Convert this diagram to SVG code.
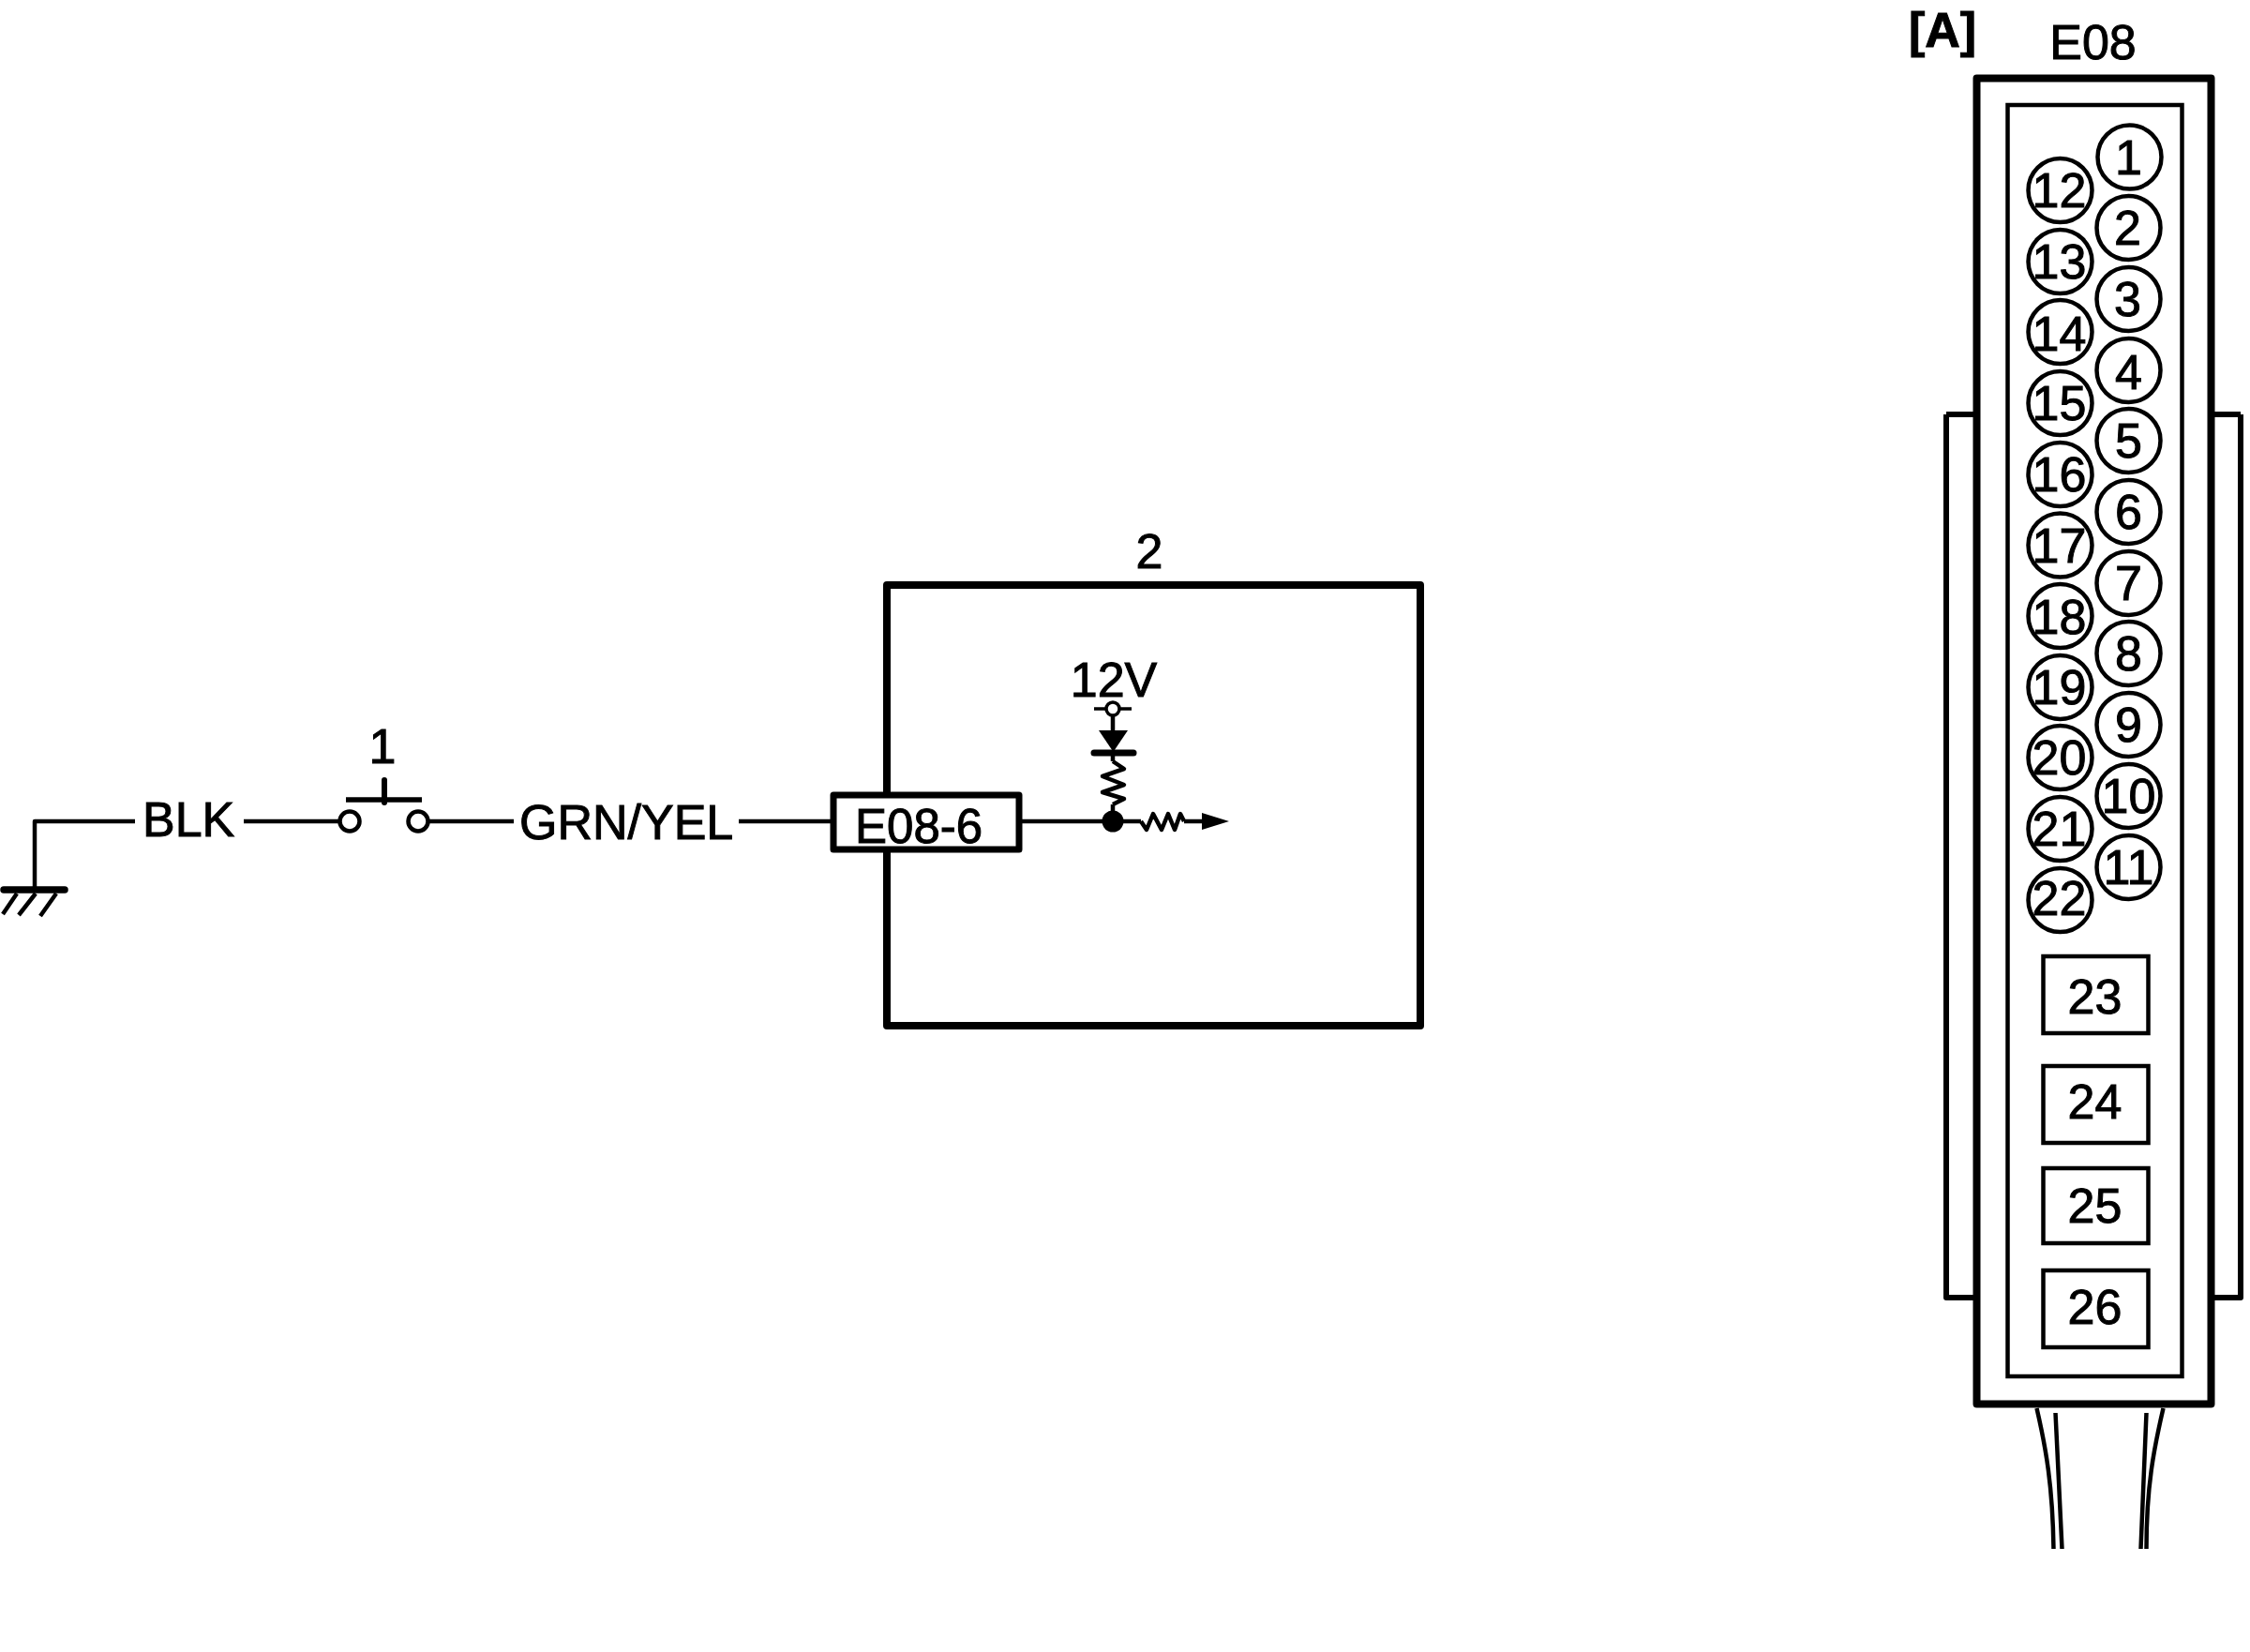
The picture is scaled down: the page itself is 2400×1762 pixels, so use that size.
<svg xmlns="http://www.w3.org/2000/svg" width="2400" height="1762" viewBox="0 0 2400 1762">
<style>
text{font-family:"Liberation Sans",Arial,sans-serif;font-size:52px;fill:#000;stroke:#000;stroke-width:1px}
.m{text-anchor:middle}
.b{font-weight:bold;font-size:52px}
.s{font-size:51px}
.w{fill:none;stroke:#000;stroke-width:4.500;stroke-linejoin:round}
.o{fill:#fff;stroke:#000;stroke-width:8;stroke-linejoin:round}
.t{fill:#fff;stroke:#000;stroke-width:4.500}
.f{fill:#000;stroke:none}
.pin circle{fill:#fff;stroke:#000;stroke-width:4.500}
.pin rect{fill:#fff;stroke:#000;stroke-width:4.500}
</style>
<rect width="2400" height="1762" fill="#fff"/>
<g id="ground">
<path fill="none" stroke="#000" stroke-width="7.500" stroke-linecap="round" d="M4 949H69"/>
<path class="w" d="M18 953L3 975M38 953L20 976M60 953L43 977"/>
</g>
<g id="label-blk"><text x="152" y="892">BLK</text></g>
<g id="switch">
<text class="m" x="408" y="814">1</text>
<path fill="none" stroke="#000" stroke-width="5.500" d="M369 853H450"/>
<path fill="none" stroke="#000" stroke-width="6" stroke-linecap="round" d="M410 832V856"/>
<circle class="w" cx="373" cy="876" r="10.500"/>
<circle class="w" cx="446" cy="876" r="10.500"/>
</g>
<g id="label-grn-yel"><text x="554" y="895">GRN/YEL</text></g>
<g id="unit-2">
<text class="m" x="1226" y="606">2</text>
<rect class="o" x="946" y="624" width="569" height="470"/>
<text class="m" x="1188" y="743">12V</text>
<path class="w" style="stroke-width:3.500" d="M1167 756H1207"/>
<circle cx="1187" cy="756" r="7" fill="#fff" stroke="#000" stroke-width="3.500"/>
<path class="f" d="M1172 779H1203L1187.500 802Z"/>
<path fill="none" stroke="#000" stroke-width="7" stroke-linecap="round" d="M1167 803H1209"/>
<path class="w" d="M1187 812L1199 820L1176 828L1199 837L1176 845L1199 852L1187 858"/>
<circle class="f" cx="1187" cy="876" r="11.500"/>
<path class="w" d="M1217 876L1223 885L1230 868L1239 885L1246 868L1253 885L1259 868L1263 876"/>
<path class="f" d="M1282 867L1311 876L1282 885Z"/>
</g>
<g id="tag-e08-6">
<rect fill="#fff" stroke="#000" stroke-width="7" stroke-linejoin="round" x="889" y="848" width="198" height="58"/>
<text class="s" x="912" y="899">E08-6</text>
</g>
<g id="connector-e08">
<text class="b" x="2036" y="50">[A]</text>
<path class="w" style="stroke-width:6" d="M2076 442H2107M2076 442V1384H2107M2390 442H2360M2390 442V1384H2360"/>
<g transform="translate(-3.500 0)">
<text class="m" x="2236" y="63">E08</text>
<rect class="o" x="2112" y="83.500" width="250" height="1414"/>
<rect class="t" x="2145" y="112" width="186" height="1356"/>
<g class="pin" id="pins">
<g id="pin-1"><circle cx="2275" cy="167.500" r="34"/><text class="m" x="2274" y="186">1</text></g>
<g id="pin-2"><circle cx="2274" cy="243" r="34"/><text class="m" x="2273" y="261">2</text></g>
<g id="pin-3"><circle cx="2274" cy="319" r="34"/><text class="m" x="2273" y="337">3</text></g>
<g id="pin-4"><circle cx="2274" cy="395" r="34"/><text class="m" x="2274" y="415">4</text></g>
<g id="pin-5"><circle cx="2274" cy="470" r="34"/><text class="m" x="2274" y="488">5</text></g>
<g id="pin-6"><circle cx="2274" cy="546" r="34"/><text class="m" x="2274" y="564">6</text></g>
<g id="pin-7"><circle cx="2274" cy="622" r="34"/><text class="m" x="2274" y="640">7</text></g>
<g id="pin-8"><circle cx="2274" cy="697" r="34"/><text class="m" x="2274" y="715">8</text></g>
<g id="pin-9"><circle cx="2274" cy="773" r="34"/><text class="m" x="2274" y="791">9</text></g>
<g id="pin-10"><circle cx="2274" cy="849" r="34"/><text class="m" x="2274" y="867">10</text></g>
<g id="pin-11"><circle cx="2274" cy="925" r="34"/><text class="m" x="2274" y="943">11</text></g>
<g id="pin-12"><circle cx="2201" cy="203" r="34"/><text class="m" x="2200" y="221">12</text></g>
<g id="pin-13"><circle cx="2201" cy="279" r="34"/><text class="m" x="2200" y="297">13</text></g>
<g id="pin-14"><circle cx="2201" cy="354" r="34"/><text class="m" x="2200" y="374">14</text></g>
<g id="pin-15"><circle cx="2201" cy="430" r="34"/><text class="m" x="2200" y="448">15</text></g>
<g id="pin-16"><circle cx="2201" cy="506" r="34"/><text class="m" x="2200" y="524">16</text></g>
<g id="pin-17"><circle cx="2201" cy="581.500" r="34"/><text class="m" x="2200" y="600">17</text></g>
<g id="pin-18"><circle cx="2201" cy="657" r="34"/><text class="m" x="2200" y="676">18</text></g>
<g id="pin-19"><circle cx="2201" cy="733" r="34"/><text class="m" x="2200" y="751">19</text></g>
<g id="pin-20"><circle cx="2201" cy="808" r="34"/><text class="m" x="2200" y="826">20</text></g>
<g id="pin-21"><circle cx="2201" cy="884" r="34"/><text class="m" x="2200" y="902">21</text></g>
<g id="pin-22"><circle cx="2201" cy="960" r="34"/><text class="m" x="2200" y="976">22</text></g>
<g id="pin-23"><rect x="2183" y="1020" width="112" height="82"/><text class="m" x="2238" y="1081">23</text></g>
<g id="pin-24"><rect x="2183" y="1137" width="112" height="82"/><text class="m" x="2238" y="1193">24</text></g>
<g id="pin-25"><rect x="2183" y="1246" width="112" height="80"/><text class="m" x="2238" y="1304">25</text></g>
<g id="pin-26"><rect x="2183" y="1355" width="112" height="82"/><text class="m" x="2238" y="1412">26</text></g>
</g>
<path class="w" d="M2176 1502C2186 1545 2193 1585 2194 1652M2196 1507L2203 1652M2293 1507L2287 1652M2311 1502C2301 1545 2293 1585 2293 1652"/>
</g>
</g>
<g id="connectors">
<path class="w" d="M144 876H37V947"/>
<path class="w" d="M260 876H363"/>
<path class="w" d="M457 876H548"/>
<path class="w" d="M788 876H889"/>
<path class="w" d="M1090 876H1187"/>
<path class="w" d="M1187 763V779M1187 803V812M1187 858V876"/>
<path class="w" d="M1187 876H1217"/>
<path class="w" d="M1263 876H1289"/>
</g>
</svg>
